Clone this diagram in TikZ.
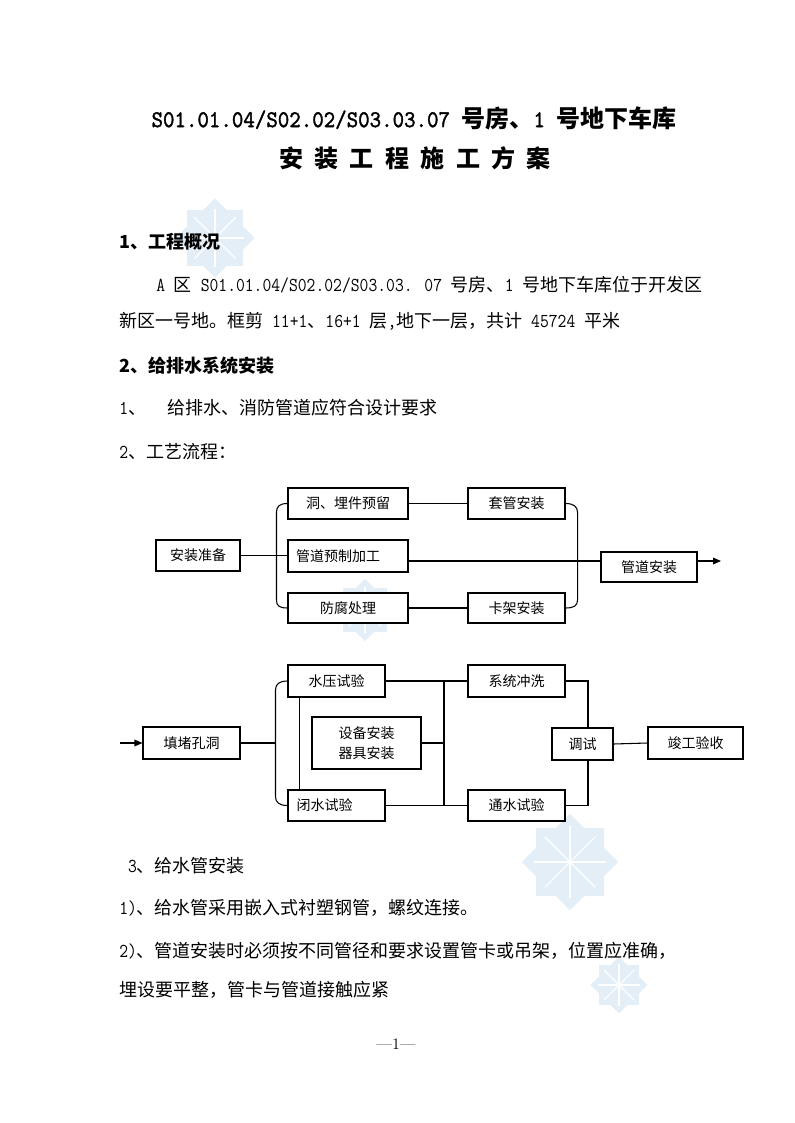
\documentclass[tikz,border=0pt]{standalone}
\usepackage{fontspec}
\newfontfamily\cjk{Noto Sans CJK SC}
\newfontfamily\tmono{lmmono10-regular.otf}[FakeBold=1.5]
\usetikzlibrary{arrows.meta,calc}
\definecolor{wm}{RGB}{228,238,247}
\newcommand\bodyfont{\cjk\fontsize{13.5pt}{16pt}\selectfont}
\newcommand\lat[1]{{\ttfamily\fontsize{12.86pt}{16pt}\selectfont\scalebox{1}[1.15]{#1}}}
\newcommand\tlat[1]{{\tmono\fontsize{16.4pt}{18pt}\selectfont\scalebox{1}[1.1]{#1}}}
\newcommand\wmstar[3]{%
  \fill[wm] ({#1-#3},{#2-#3}) rectangle ({#1+#3},{#2+#3});
  \fill[wm, rotate around={45:(#1,#2)}] ({#1-#3},{#2-#3}) rectangle ({#1+#3},{#2+#3});
  \foreach \a in {0,45,...,315} \draw[white, line width=0.8pt] (#1,#2) -- ++(\a:{#3*1.05});
}
\tikzset{
  box/.style={draw, fill=white, line width=0.8pt, inner sep=0pt,
    font=\cjk\fontsize{10.5pt}{15pt}\selectfont, align=center},
  ln/.style={line width=0.8pt},
  arr/.style={line width=0.8pt, -{Triangle[length=6pt,width=5pt]}},
  body/.style={anchor=west, inner sep=0pt, font=\bodyfont},
}
\begin{document}
\begin{tikzpicture}[x=0.75pt, y=-0.75pt]
\useasboundingbox (0,0) rectangle (794,1123);
\fill[white] (0,0) rectangle (794,1123);
% watermarks
\wmstar{215}{238}{28}
\wmstar{365}{610}{22}
\wmstar{570}{862}{34}
\wmstar{619}{985}{20}

% titles
\node[inner sep=0pt, font=\cjk\fontsize{18pt}{20pt}\selectfont] (title1) at (414,118)
  {\tlat{S01.01.04/S02.02/S03.03.07 }{\bfseries 号房、}\tlat{1 }{\bfseries 号地下车库}};
\node[inner sep=0pt, font=\cjk\fontsize{18pt}{20pt}\selectfont\bfseries] (title2) at (415,158)
  {安\hspace{8.5pt}装\hspace{8.5pt}工\hspace{8.5pt}程\hspace{8.5pt}施\hspace{8.5pt}工\hspace{8.5pt}方\hspace{8.5pt}案};

% body text
\node[body] (h1) at (119,242) {\bfseries 1、工程概况};
\node[body] (p1) at (156,285) {\lat{A }区\lat{ S01.01.04/S02.02/S03.03. 07 }号房、\lat{1 }号地下车库位于开发区};
\node[body] (p2) at (119,321) {新区一号地。框剪\lat{ 11+1}、\lat{16+1 }层\lat{,}地下一层，共计\lat{ 45724 }平米};
\node[body] (h2) at (119,366) {\bfseries 2、给排水系统安装};
\node[body] (p3) at (119,408) {\lat{1}、\hspace{16pt}给排水、消防管道应符合设计要求};
\node[body] (p4) at (119,452) {\lat{2}、工艺流程：};
\node[body] (p5) at (119,866) {\lat{ 3}、给水管安装};
\node[body] (p6) at (119,908) {\lat{1)}、给水管采用嵌入式衬塑钢管，螺纹连接。};
\node[body] (p7) at (119,951) {\lat{2)}、管道安装时必须按不同管径和要求设置管卡或吊架，位置应准确，};
\node[body] (p8) at (119,990) {埋设要平整，管卡与管道接触应紧};
\node[inner sep=0pt, font=\fontsize{12pt}{14pt}\selectfont] (pg) at (396,1044) {\textemdash 1\textemdash};

% ---------- flowchart 1 ----------
\node[box, minimum width=63pt, minimum height=23.25pt] (prep) at (198,555.5) {安装准备};
\node[box, minimum width=90pt, minimum height=23.25pt] (dong) at (348,503.5) {洞、埋件预留};
\node[box, minimum width=90pt, minimum height=24pt] (pre) at (348,556) {管道预制加工\hspace{15pt}};
\node[box, minimum width=90pt, minimum height=22.5pt] (fang) at (348,608) {防腐处理};
\node[box, minimum width=72.75pt, minimum height=23.25pt] (tao) at (516.5,503.5) {套管安装};
\node[box, minimum width=72.75pt, minimum height=22.5pt] (ka) at (516.5,608) {卡架安装};
\node[box, minimum width=72pt, minimum height=22.5pt] (gdaz) at (649,567) {管道安装};
\coordinate (m) at (0,561);
\coordinate (aend) at (721,561);

\draw[ln] (prep.east) -- (prep.east -| pre.west);
\draw[ln] (dong.west) .. controls +(-8,0) and +(0,-6) .. ++(-11,9)
  -- ($(fang.west)+(-11,-8)$) .. controls +(0,6) and +(-8,0) .. (fang.west);
\draw[ln] (dong.east) -- (tao.west);
\draw[ln] (fang.east |- ka.west) -- (ka.west);
\draw[ln] (pre.east |- m) -- (gdaz.west |- m);
\draw[ln] (tao.east) .. controls +(8,0) and +(0,-6) .. ++(12,9)
  -- ($(ka.east)+(12,-8)$) .. controls +(0,6) and +(8,0) .. (ka.east);
\draw[arr] (gdaz.east |- m) -- (aend);

% ---------- flowchart 2 ----------
\node[box, minimum width=72.75pt, minimum height=24pt] (tian) at (191.5,743) {填堵孔洞};
\node[box, minimum width=72.75pt, minimum height=24pt] (sy) at (336.5,681) {水压试验};
\node[box, minimum width=72.75pt, minimum height=23.25pt] (bs) at (336.5,805.5) {闭水试验\hspace{18pt}};
\node[box, minimum width=81.75pt, minimum height=39pt] (sb) at (366.5,743) {设备安装\\器具安装};
\node[box, minimum width=72.75pt, minimum height=24pt] (xt) at (516.5,681) {系统冲洗};
\node[box, minimum width=72.75pt, minimum height=23.25pt] (ts) at (516.5,805.5) {通水试验};
\node[box, minimum width=45.75pt, minimum height=24pt] (tsh) at (582.5,744) {调试};
\node[box, minimum width=71.25pt, minimum height=24pt] (jg) at (695.5,743) {竣工验收};
\coordinate (astart) at (120,743);
\coordinate (lb) at (276,743);
\coordinate (cx) at (444,0);

\draw[arr] (astart) -- (tian.west);
\draw[ln] (tian.east) -- (lb);
\draw[ln] (sy.west) .. controls +(-8,0) and +(0,-6) .. ++(-12,9)
  -- ($(bs.west)+(-12,-9)$) .. controls +(0,6) and +(-8,0) .. (bs.west);
\draw[ln] ($(sy.south west)+(12,0)$) -- ($(bs.north west)+(12,0)$);
\draw[ln] (sy.east) -- (xt.west);
\draw[ln] (bs.east) -- (ts.west);
\draw[ln] (sb.east) -- (sb.east -| cx);
\draw[ln] (sy.east -| cx) -- (bs.east -| cx);
\draw[ln] (xt.east) -| ($(tsh.north)+(5.5,0)$);
\draw[ln] (ts.east) -| ($(tsh.south)+(5.5,0)$);
\draw[ln] (tsh.east) -- (jg.west);
\end{tikzpicture}
\end{document}
